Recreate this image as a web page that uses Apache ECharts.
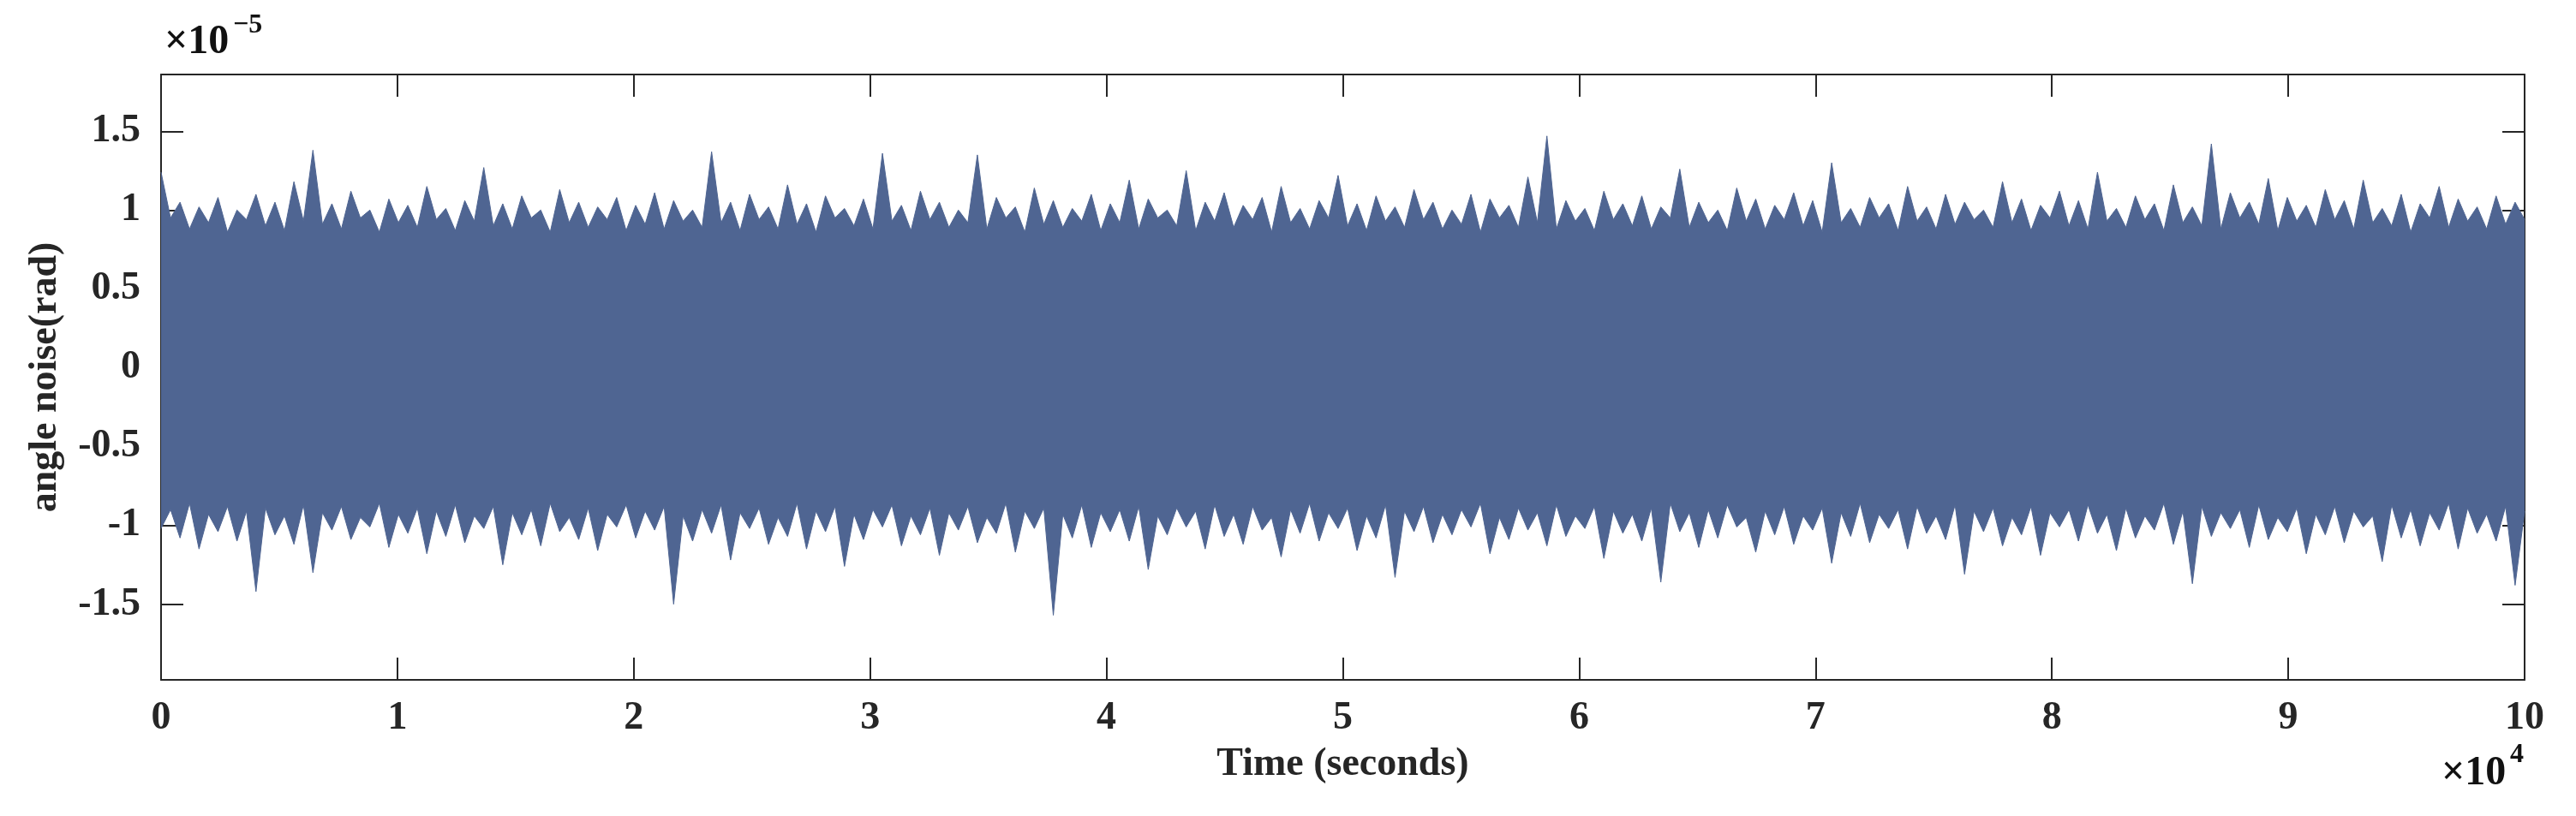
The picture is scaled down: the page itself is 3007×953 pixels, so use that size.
<!DOCTYPE html>
<html>
<head>
<meta charset="utf-8">
<script src="https://cdn.jsdelivr.net/npm/echarts@6/dist/echarts.min.js"></script>
<style>
  html, body { margin: 0; padding: 0; background: #fff; }
  #chart { width: 3007px; height: 953px; }
</style>
</head>
<body>
<div id="chart"></div>
<script>
// 噪声包络（上沿 / 下沿），单位 1e-5 rad，横轴 0~10 (x1e4 s) 均匀分布
const upperEnv = [
  1.24, 0.95, 1.05, 0.88, 1.02, 0.92, 1.08, 0.86, 1.00, 0.94, 1.10, 0.90, 1.05, 0.87, 1.18, 0.93, 1.38, 0.91, 1.04, 0.88, 1.12, 0.95, 1.00, 0.86, 1.07,
  0.92, 1.03, 0.89, 1.15, 0.94, 1.01, 0.87, 1.06, 0.93, 1.27, 0.90, 1.04, 0.88, 1.09, 0.95, 1.00, 0.86, 1.13, 0.92, 1.05, 0.89, 1.02, 0.94, 1.08, 0.87,
  1.03, 0.91, 1.11, 0.88, 1.06, 0.93, 1.00, 0.89, 1.37, 0.92, 1.05, 0.87, 1.10, 0.94, 1.02, 0.88, 1.16, 0.91, 1.04, 0.86, 1.09, 0.95, 1.01, 0.90, 1.07,
  0.88, 1.36, 0.93, 1.03, 0.87, 1.12, 0.94, 1.05, 0.89, 1.00, 0.92, 1.35, 0.88, 1.08, 0.95, 1.02, 0.86, 1.14, 0.91, 1.06, 0.89, 1.01, 0.93, 1.10, 0.87,
  1.04, 0.92, 1.19, 0.88, 1.07, 0.95, 1.00, 0.90, 1.25, 0.87, 1.05, 0.93, 1.11, 0.89, 1.03, 0.94, 1.08, 0.86, 1.15, 0.92, 1.01, 0.88, 1.06, 0.95, 1.22,
  0.90, 1.04, 0.87, 1.09, 0.93, 1.02, 0.89, 1.13, 0.94, 1.05, 0.88, 1.00, 0.91, 1.10, 0.86, 1.07, 0.95, 1.03, 0.89, 1.21, 0.92, 1.47, 0.88, 1.06, 0.93,
  1.01, 0.87, 1.12, 0.94, 1.04, 0.90, 1.09, 0.88, 1.02, 0.95, 1.26, 0.89, 1.05, 0.92, 1.00, 0.87, 1.14, 0.93, 1.07, 0.88, 1.03, 0.94, 1.11, 0.90, 1.06,
  0.86, 1.30, 0.92, 1.01, 0.89, 1.08, 0.95, 1.04, 0.87, 1.15, 0.93, 1.02, 0.88, 1.10, 0.91, 1.05, 0.94, 1.00, 0.89, 1.18, 0.92, 1.07, 0.87, 1.03, 0.95,
  1.12, 0.90, 1.06, 0.88, 1.24, 0.93, 1.01, 0.89, 1.09, 0.94, 1.04, 0.87, 1.16, 0.92, 1.02, 0.90, 1.42, 0.88, 1.11, 0.95, 1.05, 0.91, 1.20, 0.87, 1.08,
  0.93, 1.03, 0.89, 1.13, 0.94, 1.06, 0.88, 1.19, 0.92, 1.01, 0.90, 1.10, 0.86, 1.04, 0.95, 1.15, 0.89, 1.07, 0.93, 1.02, 0.88, 1.09, 0.91, 1.05, 0.94
];
const lowerEnv = [
  -1.02, -0.90, -1.08, -0.86, -1.15, -0.93, -1.04, -0.88, -1.10, -0.91, -1.42, -0.89, -1.06, -0.94, -1.12, -0.87, -1.30, -0.92, -1.03, -0.88, -1.09, -0.95, -1.01, -0.86, -1.14,
  -0.93, -1.05, -0.89, -1.18, -0.91, -1.07, -0.87, -1.11, -0.94, -1.02, -0.88, -1.25, -0.92, -1.06, -0.90, -1.13, -0.86, -1.04, -0.95, -1.09, -0.89, -1.16, -0.93, -1.01, -0.87,
  -1.08, -0.91, -1.03, -0.88, -1.50, -0.94, -1.10, -0.90, -1.05, -0.87, -1.22, -0.92, -1.02, -0.89, -1.12, -0.95, -1.07, -0.86, -1.15, -0.91, -1.04, -0.88, -1.26, -0.93, -1.09,
  -0.90, -1.01, -0.87, -1.13, -0.94, -1.06, -0.89, -1.19, -0.92, -1.03, -0.88, -1.11, -0.95, -1.05, -0.86, -1.17, -0.91, -1.02, -0.89, -1.57, -0.93, -1.08, -0.87, -1.14, -0.92,
  -1.04, -0.90, -1.10, -0.88, -1.28, -0.94, -1.06, -0.89, -1.01, -0.91, -1.15, -0.87, -1.07, -0.93, -1.12, -0.88, -1.03, -0.95, -1.20, -0.90, -1.05, -0.86, -1.10, -0.92, -1.02,
  -0.89, -1.16, -0.94, -1.08, -0.87, -1.33, -0.91, -1.04, -0.88, -1.11, -0.93, -1.06, -0.90, -1.01, -0.86, -1.18, -0.95, -1.09, -0.89, -1.03, -0.92, -1.13, -0.87, -1.07, -0.94,
  -1.02, -0.88, -1.21, -0.91, -1.05, -0.93, -1.10, -0.89, -1.36, -0.86, -1.04, -0.92, -1.14, -0.90, -1.08, -0.87, -1.01, -0.95, -1.17, -0.91, -1.06, -0.88, -1.12, -0.94, -1.03,
  -0.89, -1.24, -0.92, -1.07, -0.86, -1.11, -0.93, -1.02, -0.90, -1.15, -0.88, -1.05, -0.94, -1.09, -0.87, -1.31, -0.91, -1.04, -0.89, -1.13, -0.95, -1.06, -0.88, -1.19, -0.92,
  -1.01, -0.90, -1.10, -0.87, -1.05, -0.93, -1.16, -0.89, -1.08, -0.94, -1.03, -0.86, -1.12, -0.91, -1.37, -0.88, -1.07, -0.92, -1.02, -0.90, -1.14, -0.87, -1.09, -0.95, -1.04,
  -0.89, -1.18, -0.93, -1.06, -0.88, -1.11, -0.91, -1.01, -0.94, -1.23, -0.87, -1.08, -0.90, -1.13, -0.92, -1.03, -0.86, -1.15, -0.89, -1.05, -0.93, -1.10, -0.88, -1.38, -0.91
];
const xTicks = [0, 1, 2, 3, 4, 5, 6, 7, 8, 9, 10];
const yTicks = [-1.5, -1, -0.5, 0, 0.5, 1, 1.5];

const lineColor = '#4f6592';
const axisColor = '#262626';
const fontFam = '"Liberation Serif", "DejaVu Serif", serif';

function toPairs(arr) {
  const n = arr.length;
  return arr.map((v, i) => [i * 10 / (n - 1), v]);
}

function bandSeries(data, withSeam) {
  const s = {
    type: 'line',
    data: toPairs(data),
    showSymbol: false,
    symbol: 'none',
    xAxisIndex: 0,
    yAxisIndex: 0,
    lineStyle: { color: lineColor, width: 1 },
    areaStyle: { color: lineColor, opacity: 1, origin: 0 },
    silent: true,
    animation: false
  };
  if (withSeam) {
    // 覆盖上下两块面积在 0 处的抗锯齿缝隙
    s.markLine = {
      silent: true, symbol: 'none', label: { show: false },
      lineStyle: { color: lineColor, width: 4, type: 'solid' },
      data: [{ yAxis: 0 }]
    };
  }
  return s;
}

const labelStyle = { color: axisColor, fontFamily: fontFam, fontWeight: 'bold', fontSize: 46 };
const tickStyle = { inside: true, length: 26, lineStyle: { color: axisColor, width: 2 } };
const lineOpt = { onZero: false, lineStyle: { color: axisColor, width: 2 } };

const option = {
  backgroundColor: '#fff',
  animation: false,
  grid: { left: 188, right: 60, top: 87, bottom: 159 },
  xAxis: [{
    type: 'value', min: 0, max: 10, interval: 1, position: 'bottom',
    name: 'Time (seconds)', nameLocation: 'middle', nameGap: 76,
    nameTextStyle: Object.assign({}, labelStyle, { fontSize: 46 }),
    axisLine: lineOpt,
    axisTick: tickStyle,
    axisLabel: Object.assign({ margin: 22 }, labelStyle),
    splitLine: { show: false }
  }, {
    type: 'value', min: 0, max: 10, interval: 1, position: 'top', show: true,
    axisLine: lineOpt,
    axisTick: tickStyle,
    axisLabel: { show: false }, splitLine: { show: false }
  }],
  yAxis: [{
    type: 'value', min: -1.98, max: 1.86, position: 'left',
    name: 'angle noise(rad)', nameLocation: 'middle', nameGap: 112, nameRotate: 90,
    nameTextStyle: Object.assign({}, labelStyle, { fontSize: 46 }),
    axisLine: lineOpt,
    axisTick: Object.assign({ customValues: yTicks }, tickStyle),
    axisLabel: Object.assign({ margin: 24, customValues: yTicks }, labelStyle),
    splitLine: { show: false }
  }, {
    type: 'value', min: -1.98, max: 1.86, position: 'right', show: true,
    axisLine: lineOpt,
    axisTick: Object.assign({ customValues: yTicks }, tickStyle),
    axisLabel: { show: false }, splitLine: { show: false }
  }],
  graphic: [{
    type: 'text', left: 192, top: 26,
    style: { text: '×10', fill: '#111', font: 'bold 48px ' + fontFam }
  }, {
    type: 'text', left: 272, top: 14,
    style: { text: '−5', fill: '#111', font: 'bold 32px ' + fontFam }
  }, {
    type: 'text', left: 2850, top: 880,
    style: { text: '×10', fill: '#111', font: 'bold 48px ' + fontFam }
  }, {
    type: 'text', left: 2930, top: 866,
    style: { text: '4', fill: '#111', font: 'bold 32px ' + fontFam }
  }],
  series: [bandSeries(upperEnv, true), bandSeries(lowerEnv, false)]
};

const chart = echarts.init(document.getElementById('chart'));
chart.setOption(option);
</script>
</body>
</html>
